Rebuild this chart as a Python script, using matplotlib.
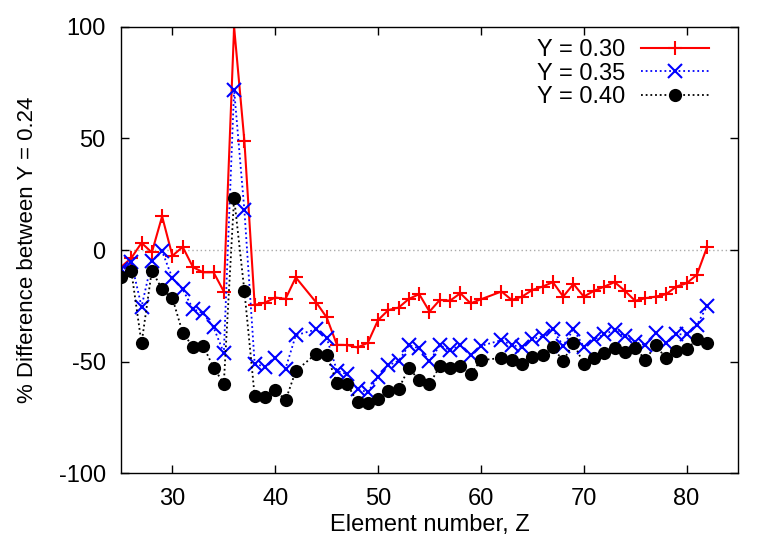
import numpy as np
import matplotlib
matplotlib.use("Agg")
import matplotlib.pyplot as plt

plt.rcParams['font.family'] = ['Liberation Sans', 'DejaVu Sans']
plt.rcParams['axes.unicode_minus'] = False

# Element numbers (no Tc, Z=43, and no Pm, Z=61)
z = list(range(25, 43)) + list(range(44, 61)) + list(range(62, 83))

y030 = [-7.7, -3.6, 3.2, -1.1, 15.1, -2.6, 1.4, -7.7, -10, -10, -18.6, 100, 48.9, -24.6, -23.6, -21.3, -21.9, -12.3,
        -23.6, -30.2, -42.5, -42.6, -43.7, -41.6, -31.4, -26.9, -25.8, -21.9, -19.8, -27.6, -22.4, -22.7, -19.4, -23.9, -22.1,
        -18.6, -22.4, -20.9, -17.9, -16.4, -14.4, -20.9, -15.2, -20.9, -18.3, -16.4, -14.4, -18.3, -22.8, -21.6, -20.9,
        -19.8, -16.4, -14.9, -11.1, 1.4]
y035 = [-8.6, -5.4, -25.4, -5.1, -0.6, -12.6, -17.6, -26.4, -28.4, -34.7, -46.1, 71.9, 17.8, -50.9, -52.4, -48.4, -53.2, -38.2,
        -35.6, -39.3, -54.2, -55.7, -62.5, -63.7, -56.9, -51.7, -49.7, -42.7, -44.1, -49.9, -42.7, -44.9, -42.7, -47.2, -43,
        -40.4, -42.7, -43.4, -40, -38.6, -35.6, -43, -35.5, -43.4, -40.1, -37.7, -35.9, -38.6, -41.2, -42.7, -37.1,
        -41.9, -37.8, -37.8, -33.6, -25.1]
y040 = [-12.3, -9.2, -41.9, -9.2, -17.6, -21.6, -37.1, -43.4, -43, -52.7, -59.9, 23.4, -18.3, -65.5, -65.9, -62.6, -67.4, -54.2,
        -46.4, -47, -59.6, -60.2, -68.2, -68.6, -66.7, -63.2, -62.2, -52.9, -58.4, -60.2, -52.1, -52.9, -52.1, -55.7, -49.4,
        -48.4, -49.4, -51, -48, -47.2, -43.7, -49.7, -41.6, -51.2, -48.2, -46.1, -44.1, -45.7, -44.1, -49.1, -42.7,
        -48.6, -45.2, -44.6, -40, -41.9]

fig = plt.figure(figsize=(7.78, 5.45), dpi=100)
ax = fig.add_axes([0.1555, 0.132, 0.7931, 0.8185])

ax.axhline(0, color='#aaaaaa', lw=1, ls=(0, (1, 2)), zorder=0)

dots = (0, (1, 1.6))
ax.plot(z, y030, color='red', lw=1.5, ls='-', marker='+', ms=10.5, mew=1.5, label='Y = 0.30')
ax.plot(z, y035, color='blue', lw=1.3, ls=dots, marker='x', ms=9.5, mew=1.5, label='Y = 0.35')
ax.plot(z, y040, color='black', lw=1.3, ls=dots, marker='o', ms=9.5, mew=0, label='Y = 0.40')

ax.set_xlim(25, 85)
ax.set_ylim(-100, 100)
ax.set_xticks([30, 40, 50, 60, 70, 80])
ax.set_yticks([-100, -50, 0, 50, 100])
ax.tick_params(direction='in', length=6, width=1, top=True, right=True, labelsize=17, pad=11)
for s in ax.spines.values():
    s.set_linewidth(1)

ax.set_xlabel('Element number, Z', fontsize=17)
ax.set_ylabel('% Difference between Y = 0.24', fontsize=16)
ax.xaxis.set_label_coords(0.5, -0.092)
ax.yaxis.set_label_coords(-0.134, 0.5)

ax.legend(loc='upper right', bbox_to_anchor=(0.953, 0.973), frameon=False, markerfirst=False,
          fontsize=17, handlelength=2.9, handletextpad=0.63, labelspacing=0.07,
          borderpad=0, borderaxespad=0)

plt.savefig('out.png', dpi=100)
